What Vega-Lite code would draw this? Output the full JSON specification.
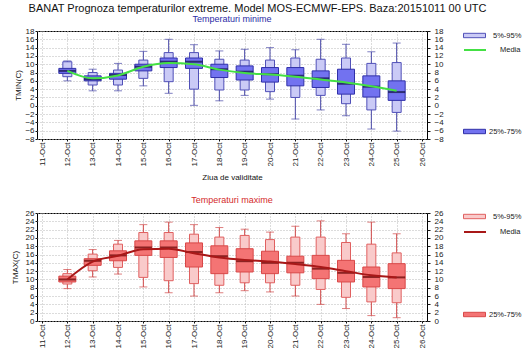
{
  "$schema": "https://vega.github.io/schema/vega-lite/v6.json",
  "padding": {"left": 10, "top": 2, "right": 0, "bottom": 0},
  "title": {"text": "BANAT  Prognoza temperaturilor extreme.  Model MOS-ECMWF-EPS. Baza:20151011 00 UTC", "fontSize": 11, "fontWeight": "normal", "color": "#111", "anchor": "middle", "offset": 1, "dx": -9},
  "config": {
    "font": "Liberation Sans",
    "view": {"stroke": "black", "strokeWidth": 1},
    "axis": {"labelFontSize": 8, "labelColor": "#222", "tickColor": "#111", "gridDash": [1, 2], "gridColor": "#b8b8b8", "domain": false, "titleFontWeight": "normal", "titleFontSize": 8, "titleColor": "#111"},
    "legend": {"labelFontSize": 7.5, "labelColor": "#222", "padding": 0}
  },
  "datasets": {
    "tmin": [
      {"date": "2015-10-12", "min": 6.0, "p5": 7.0, "p25": 7.8, "med": 8.4, "p75": 9.0, "p95": 10.6, "max": 10.8, "mean": 8.4},
      {"date": "2015-10-13", "min": 3.6, "p5": 5.0, "p25": 6.0, "med": 6.4, "p75": 7.2, "p95": 8.0, "max": 8.8, "mean": 6.6},
      {"date": "2015-10-14", "min": 3.6, "p5": 5.0, "p25": 6.4, "med": 7.4, "p75": 7.8, "p95": 8.6, "max": 10.2, "mean": 7.3},
      {"date": "2015-10-15", "min": 4.8, "p5": 6.6, "p25": 8.4, "med": 9.4, "p75": 10.0, "p95": 11.0, "max": 13.1, "mean": 9.4},
      {"date": "2015-10-16", "min": 3.0, "p5": 5.8, "p25": 9.2, "med": 10.6, "p75": 11.5, "p95": 12.8, "max": 16.0, "mean": 10.3},
      {"date": "2015-10-17", "min": 0.1, "p5": 4.0, "p25": 9.0, "med": 10.6, "p75": 11.5, "p95": 12.8, "max": 14.7, "mean": 10.0},
      {"date": "2015-10-18", "min": 1.2, "p5": 3.8, "p25": 6.8, "med": 8.8, "p75": 10.0, "p95": 11.2, "max": 13.2, "mean": 8.7},
      {"date": "2015-10-19", "min": 2.5, "p5": 3.8, "p25": 6.2, "med": 8.2, "p75": 9.6, "p95": 11.0, "max": 13.6, "mean": 7.9},
      {"date": "2015-10-20", "min": 1.6, "p5": 3.4, "p25": 5.7, "med": 7.6, "p75": 9.2, "p95": 11.0, "max": 14.0, "mean": 7.5},
      {"date": "2015-10-21", "min": -3.2, "p5": 2.0, "p25": 4.8, "med": 7.2, "p75": 9.2, "p95": 11.5, "max": 13.5, "mean": 7.0},
      {"date": "2015-10-22", "min": -1.0, "p5": 2.5, "p25": 4.4, "med": 6.6, "p75": 8.4, "p95": 11.2, "max": 16.0, "mean": 6.3},
      {"date": "2015-10-23", "min": -2.4, "p5": 0.5, "p25": 2.8, "med": 5.3, "p75": 8.8, "p95": 11.5, "max": 14.8, "mean": 5.6},
      {"date": "2015-10-24", "min": -5.6, "p5": -1.0, "p25": 2.1, "med": 4.6, "p75": 7.2, "p95": 10.2, "max": 13.0, "mean": 4.7},
      {"date": "2015-10-25", "min": -6.1, "p5": -1.6, "p25": 1.3, "med": 3.3, "p75": 6.0, "p95": 10.4, "max": 15.1, "mean": 3.6}
    ],
    "tmax": [
      {"date": "2015-10-12", "min": 7.8, "p5": 8.9, "p25": 9.4, "med": 10.0, "p75": 10.8, "p95": 11.4, "max": 12.4, "mean": 10.0},
      {"date": "2015-10-13", "min": 10.6, "p5": 12.1, "p25": 13.4, "med": 14.5, "p75": 15.0, "p95": 16.1, "max": 17.2, "mean": 14.3},
      {"date": "2015-10-14", "min": 11.3, "p5": 12.9, "p25": 14.5, "med": 15.8, "p75": 16.9, "p95": 18.5, "max": 19.4, "mean": 15.7},
      {"date": "2015-10-15", "min": 8.2, "p5": 10.5, "p25": 15.8, "med": 17.7, "p75": 19.3, "p95": 21.3, "max": 23.2, "mean": 17.3},
      {"date": "2015-10-16", "min": 6.8, "p5": 9.7, "p25": 15.3, "med": 17.7, "p75": 19.3, "p95": 21.3, "max": 23.8, "mean": 17.4},
      {"date": "2015-10-17", "min": 6.0, "p5": 9.0, "p25": 13.0, "med": 16.6, "p75": 18.8, "p95": 20.9, "max": 23.2, "mean": 16.3},
      {"date": "2015-10-18", "min": 6.8, "p5": 8.6, "p25": 11.4, "med": 15.6, "p75": 18.1, "p95": 20.2, "max": 22.5, "mean": 15.3},
      {"date": "2015-10-19", "min": 7.3, "p5": 9.2, "p25": 11.8, "med": 14.4, "p75": 17.4, "p95": 20.6, "max": 22.1, "mean": 14.7},
      {"date": "2015-10-20", "min": 7.0, "p5": 9.2, "p25": 11.4, "med": 14.0, "p75": 16.8, "p95": 19.6, "max": 21.4, "mean": 14.3},
      {"date": "2015-10-21", "min": 6.0, "p5": 8.6, "p25": 11.6, "med": 14.0, "p75": 15.6, "p95": 20.2, "max": 22.8, "mean": 13.7},
      {"date": "2015-10-22", "min": 4.0, "p5": 7.6, "p25": 10.2, "med": 12.6, "p75": 15.8, "p95": 20.2, "max": 24.1, "mean": 13.0},
      {"date": "2015-10-23", "min": 3.0, "p5": 5.7, "p25": 9.4, "med": 11.6, "p75": 14.6, "p95": 18.9, "max": 21.0, "mean": 12.0},
      {"date": "2015-10-24", "min": 1.3, "p5": 4.6, "p25": 8.2, "med": 10.6, "p75": 13.0, "p95": 18.5, "max": 23.8, "mean": 11.0},
      {"date": "2015-10-25", "min": 0.8, "p5": 4.4, "p25": 7.8, "med": 10.5, "p75": 13.8, "p95": 16.4, "max": 21.0, "mean": 10.5}
    ]
  },
  "spacing": 13,
  "resolve": {"scale": {"x": "independent", "y": "independent", "fill": "independent", "stroke": "independent"}, "legend": {"fill": "independent", "stroke": "independent"}},
  "vconcat": [
    {
      "title": {"text": "Temperaturi minime", "color": "#2b2ba6", "fontSize": 9, "fontWeight": "normal", "offset": 0},
      "width": 390, "height": 108,
      "data": {"name": "tmin"},
      "encoding": {
        "x": {"field": "date", "type": "temporal", "title": "Ziua de validitate",
          "scale": {"type": "utc", "domain": [{"year": 2015, "month": 10, "date": 11, "utc": true}, {"year": 2015, "month": 10, "date": 26, "utc": true}]},
          "axis": {"orient": "bottom", "tickCount": {"interval": "day", "step": 1}, "labelExpr": "utcFormat(datum.value, '%d-%b')", "labelAngle": -90, "labelOverlap": false, "labelPadding": 1, "tickSize": 2, "grid": true, "titlePadding": 7}
        }
      },
      "resolve": {"scale": {"y": "independent", "fill": "independent"}, "legend": {"fill": "independent"}},
      "layer": [
        {"mark": {"type": "rule", "color": "#4848a8", "strokeWidth": 1},
         "encoding": {"y": {"field": "min", "type": "quantitative", "title": "TMIN(C)", "scale": {"domain": [-8, 18], "nice": false},
           "axis": {"values": [-8, -6, -4, -2, 0, 2, 4, 6, 8, 10, 12, 14, 16, 18], "tickSize": 2, "labelPadding": 1, "grid": true, "titlePadding": 2}},
           "y2": {"field": "max"}}},
        {"mark": {"type": "tick", "orient": "horizontal", "color": "#4848a8", "size": 8, "thickness": 1}, "encoding": {"y": {"field": "max", "type": "quantitative", "scale": {"domain": [-8, 18], "nice": false}, "axis": null}}},
        {"mark": {"type": "tick", "orient": "horizontal", "color": "#4848a8", "size": 8, "thickness": 1}, "encoding": {"y": {"field": "min", "type": "quantitative", "scale": {"domain": [-8, 18], "nice": false}, "axis": null}}},
        {"mark": {"type": "bar", "size": 9, "stroke": "#5050b8", "strokeWidth": 1},
         "encoding": {"y": {"field": "p5", "type": "quantitative", "scale": {"domain": [-8, 18], "nice": false}, "axis": null}, "y2": {"field": "p95"},
           "fill": {"datum": "5%-95%", "scale": {"range": ["#cacaf6"]}, "legend": {"orient": "none", "legendX": 426, "legendY": -7, "title": null, "symbolType": "M-1,-0.2H1V0.2H-1Z", "symbolSize": 484, "symbolStrokeColor": "#5050b8", "symbolStrokeWidth": 1, "labelOffset": 7}}}},
        {"mark": {"type": "bar", "size": 17, "stroke": "#3030a8", "strokeWidth": 1},
         "encoding": {"y": {"field": "p25", "type": "quantitative", "scale": {"domain": [-8, 18], "nice": false}, "axis": null}, "y2": {"field": "p75"},
           "fill": {"datum": "25%-75%", "scale": {"range": ["#7272f0"]}, "legend": {"orient": "none", "legendX": 426, "legendY": 89, "title": null, "symbolType": "M-1,-0.2H1V0.2H-1Z", "symbolSize": 484, "symbolStrokeColor": "#3030a8", "symbolStrokeWidth": 1, "labelOffset": 3}}}},
        {"mark": {"type": "tick", "orient": "horizontal", "color": "#101040", "size": 17, "thickness": 2}, "encoding": {"y": {"field": "med", "type": "quantitative", "scale": {"domain": [-8, 18], "nice": false}, "axis": null}}},
        {"mark": {"type": "line", "strokeWidth": 2, "interpolate": "monotone"},
         "encoding": {"y": {"field": "mean", "type": "quantitative", "scale": {"domain": [-8, 18], "nice": false}, "axis": null},
           "stroke": {"datum": "Media", "scale": {"range": ["#44e044"]}, "legend": {"orient": "none", "legendX": 426, "legendY": 7, "title": null, "symbolType": "stroke", "symbolSize": 484, "symbolStrokeWidth": 2, "labelOffset": 13}}}},
        {"mark": {"type": "rule", "color": "black", "strokeWidth": 1}, "encoding": {"y": {"datum": 0, "type": "quantitative", "scale": {"domain": [-8, 18], "nice": false}, "axis": null}}},
        {"mark": {"type": "tick", "opacity": 0},
         "encoding": {"y": {"field": "mean", "type": "quantitative", "title": null, "scale": {"domain": [-8, 18], "nice": false},
           "axis": {"orient": "right", "values": [-8, -6, -4, -2, 0, 2, 4, 6, 8, 10, 12, 14, 16, 18], "tickSize": 3, "labelPadding": 4, "grid": false}}}}
      ]
    },
    {
      "title": {"text": "Temperaturi maxime", "color": "#d42a2a", "fontSize": 9, "fontWeight": "normal", "offset": 0},
      "width": 390, "height": 108,
      "data": {"name": "tmax"},
      "encoding": {
        "x": {"field": "date", "type": "temporal", "title": null,
          "scale": {"type": "utc", "domain": [{"year": 2015, "month": 10, "date": 11, "utc": true}, {"year": 2015, "month": 10, "date": 26, "utc": true}]},
          "axis": {"orient": "bottom", "tickCount": {"interval": "day", "step": 1}, "labelExpr": "utcFormat(datum.value, '%d-%b')", "labelAngle": -90, "labelOverlap": false, "labelPadding": 1, "tickSize": 2, "grid": true}
        }
      },
      "resolve": {"scale": {"y": "independent", "fill": "independent"}, "legend": {"fill": "independent"}},
      "layer": [
        {"mark": {"type": "rule", "color": "#d04848", "strokeWidth": 1},
         "encoding": {"y": {"field": "min", "type": "quantitative", "title": "TMAX(C)", "scale": {"domain": [0, 26], "nice": false},
           "axis": {"values": [0, 2, 4, 6, 8, 10, 12, 14, 16, 18, 20, 22, 24, 26], "tickSize": 2, "labelPadding": 1, "grid": true, "titlePadding": 6}},
           "y2": {"field": "max"}}},
        {"mark": {"type": "tick", "orient": "horizontal", "color": "#d04848", "size": 8, "thickness": 1}, "encoding": {"y": {"field": "max", "type": "quantitative", "scale": {"domain": [0, 26], "nice": false}, "axis": null}}},
        {"mark": {"type": "tick", "orient": "horizontal", "color": "#d04848", "size": 8, "thickness": 1}, "encoding": {"y": {"field": "min", "type": "quantitative", "scale": {"domain": [0, 26], "nice": false}, "axis": null}}},
        {"mark": {"type": "bar", "size": 9, "stroke": "#e06060", "strokeWidth": 1},
         "encoding": {"y": {"field": "p5", "type": "quantitative", "scale": {"domain": [0, 26], "nice": false}, "axis": null}, "y2": {"field": "p95"},
           "fill": {"datum": "5%-95%", "scale": {"range": ["#f9caca"]}, "legend": {"orient": "none", "legendX": 426, "legendY": -8, "title": null, "symbolType": "M-1,-0.2H1V0.2H-1Z", "symbolSize": 484, "symbolStrokeColor": "#e06060", "symbolStrokeWidth": 1, "labelOffset": 7}}}},
        {"mark": {"type": "bar", "size": 17, "stroke": "#d84848", "strokeWidth": 1},
         "encoding": {"y": {"field": "p25", "type": "quantitative", "scale": {"domain": [0, 26], "nice": false}, "axis": null}, "y2": {"field": "p75"},
           "fill": {"datum": "25%-75%", "scale": {"range": ["#f47474"]}, "legend": {"orient": "none", "legendX": 426, "legendY": 90, "title": null, "symbolType": "M-1,-0.2H1V0.2H-1Z", "symbolSize": 484, "symbolStrokeColor": "#d84848", "symbolStrokeWidth": 1, "labelOffset": 3}}}},
        {"mark": {"type": "tick", "orient": "horizontal", "color": "#600000", "size": 17, "thickness": 2}, "encoding": {"y": {"field": "med", "type": "quantitative", "scale": {"domain": [0, 26], "nice": false}, "axis": null}}},
        {"mark": {"type": "line", "strokeWidth": 2, "interpolate": "monotone"},
         "encoding": {"y": {"field": "mean", "type": "quantitative", "scale": {"domain": [0, 26], "nice": false}, "axis": null},
           "stroke": {"datum": "Media", "scale": {"range": ["#a81818"]}, "legend": {"orient": "none", "legendX": 426, "legendY": 7, "title": null, "symbolType": "stroke", "symbolSize": 484, "symbolStrokeWidth": 2, "labelOffset": 13}}}},
        {"mark": {"type": "tick", "opacity": 0},
         "encoding": {"y": {"field": "mean", "type": "quantitative", "title": null, "scale": {"domain": [0, 26], "nice": false},
           "axis": {"orient": "right", "values": [0, 2, 4, 6, 8, 10, 12, 14, 16, 18, 20, 22, 24, 26], "tickSize": 3, "labelPadding": 4, "grid": false}}}}
      ]
    }
  ]
}
